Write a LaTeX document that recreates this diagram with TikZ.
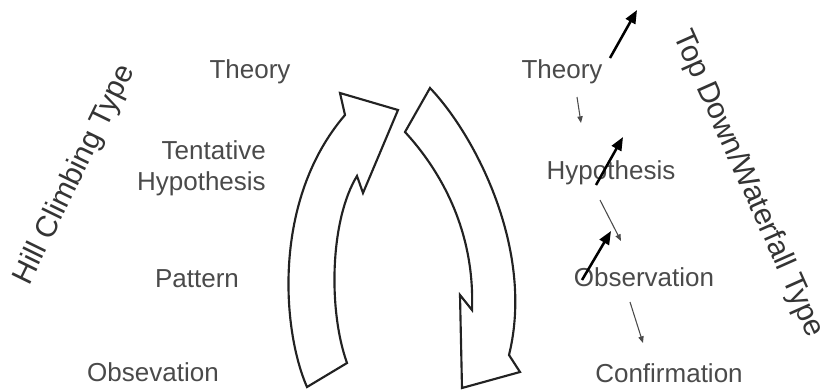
\documentclass[tikz,border=0pt]{standalone}
\usepackage{fontspec}
\setmainfont{Liberation Sans}
\usetikzlibrary{arrows.meta}
\definecolor{txtgray}{HTML}{4A4A4A}
\definecolor{outl}{HTML}{222222}
\begin{document}
\begin{tikzpicture}[x=0.75pt,y=-0.75pt,
  lbl/.style={text=txtgray, font=\fontsize{19.5}{23}\selectfont, inner sep=0pt},
  side/.style={text=txtgray!70!black, font=\fontsize{22.5}{26}\selectfont, inner sep=0pt},
  blockarrow/.style={draw=outl, line width=1.6pt, fill=white, line join=miter},
  boldarrow/.style={-{Triangle[length=10pt,width=8pt]}, line width=1.9pt, draw=black},
  thinarrow/.style={-{Triangle[length=5pt,width=4pt]}, line width=0.8pt, draw=txtgray}]
\useasboundingbox (0,0) rectangle (826,390);

% left column
\node[lbl] (lt) at (250,72) {Theory};
\node[lbl, align=right, anchor=east] (lh) at (266,168) {Tentative\\Hypothesis};
\node[lbl] (lp) at (197,279) {Pattern};
\node[lbl] (lo) at (153,372) {Obsevation};
\node[side, rotate=64] (hill) at (75,175) {Hill Climbing Type};

% right column
\node[lbl] (rt) at (562,72) {Theory};
\node[lbl] (rh) at (611,173) {Hypothesis};
\node[lbl] (ro) at (644,277) {Observation};
\node[lbl] (rc) at (669,373) {Confirmation};
\node[side, rotate=-66] (top) at (748,184) {Top Down/Waterfall Type};

% curved block arrows
\draw[blockarrow] (307,387) .. controls (282,330) and (272,200) .. (345,115)
  -- (340,93) -- (398,110) -- (363,193) -- (357,176)
  .. controls (330,220) and (328,310) .. (347,363) -- cycle;
\draw[blockarrow] (430,88) .. controls (475,135) and (535,250) .. (509,355)
  -- (520,372) -- (462,388) -- (460,295) -- (472,310)
  .. controls (475,230) and (440,170) .. (405,132) -- cycle;

% thin gray arrows
\coordinate (a1s) at (577,97);  \coordinate (a1e) at (581,123);
\coordinate (a2s) at (600,200); \coordinate (a2e) at (621,241);
\coordinate (a3s) at (630,302); \coordinate (a3e) at (643,343);
\draw[thinarrow] (a1s) -- (a1e);
\draw[thinarrow] (a2s) -- (a2e);
\draw[thinarrow] (a3s) -- (a3e);

% bold black arrows
\coordinate (b1s) at (610,58);  \coordinate (b1e) at (637,10);
\coordinate (b2s) at (596,185); \coordinate (b2e) at (623,137);
\coordinate (b3s) at (582,280); \coordinate (b3e) at (611,231);
\draw[boldarrow] (b1s) -- (b1e);
\draw[boldarrow] (b2s) -- (b2e);
\draw[boldarrow] (b3s) -- (b3e);
\end{tikzpicture}
\end{document}
